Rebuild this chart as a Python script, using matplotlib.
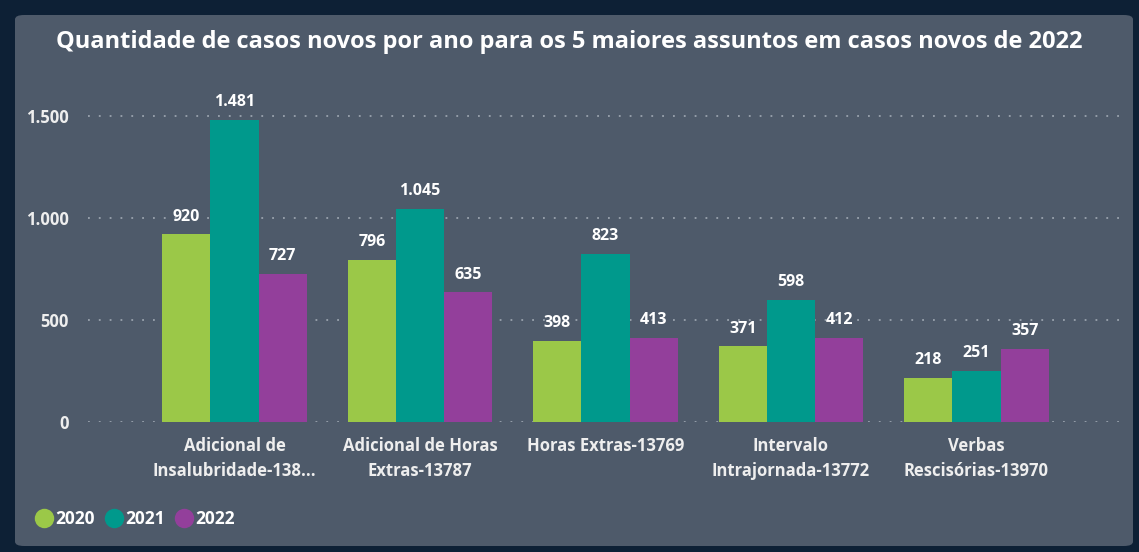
import matplotlib.pyplot as plt
from matplotlib.patches import FancyBboxPatch
from matplotlib.lines import Line2D
from matplotlib.ticker import FuncFormatter
import numpy as np

categories = ['Adicional de\nInsalubridade-138...', 'Adicional de Horas\nExtras-13787',
              'Horas Extras-13769', 'Intervalo\nIntrajornada-13772', 'Verbas\nRescisórias-13970']
years = ['2020', '2021', '2022']
v2020 = [920, 796, 398, 371, 218]
v2021 = [1481, 1045, 823, 598, 251]
v2022 = [727, 635, 413, 412, 357]
colors = ['#9bc848', '#00998c', '#933f9b']

plt.rcParams['font.family'] = ['Open Sans', 'DejaVu Sans']

fig = plt.figure(figsize=(11.39, 5.52), dpi=100)
fig.patch.set_facecolor('#0d2035')
panel = FancyBboxPatch((15 / 1139, 6 / 552), 1118 / 1139, 531 / 552,
                       boxstyle='round,pad=0,rounding_size=0.008',
                       transform=fig.transFigure, facecolor='#4e5a6a',
                       edgecolor='none', zorder=-10)
fig.patches.append(panel)

ax = fig.add_axes([88 / 1139, 130 / 552, 1035 / 1139, 326.4 / 552])
ax.set_facecolor('none')
ax.set_zorder(5)

x = np.arange(len(categories))
w = 0.26
for i, vals in enumerate([v2020, v2021, v2022]):
    bars = ax.bar(x + (i - 1) * w, vals, w, color=colors[i], zorder=3)
    for b, v in zip(bars, vals):
        lbl = f'{v:,}'.replace(',', '.')
        ax.annotate(lbl, (b.get_x() + b.get_width() / 2, v), xytext=(0, 7),
                    textcoords='offset points', ha='center', va='bottom',
                    color='white', fontsize=11.5, fontweight='bold')

ax.set_xlim(-0.79, 4.79)
ax.set_ylim(0, 1600)
ax.set_yticks([0, 500, 1000, 1500])
ax.yaxis.set_major_formatter(FuncFormatter(lambda v, p: f'{int(v):,}'.replace(',', '.')))
ax.grid(axis='y', color='#9aa3ae', linestyle=(0, (1, 5)), linewidth=1.3, zorder=1)
for s in ax.spines.values():
    s.set_visible(False)
ax.tick_params(length=0, colors='#eeeeee', labelsize=12)
ax.tick_params(axis='y', pad=14)
ax.tick_params(axis='x', pad=11)
ax.set_xticks(x)
ax.set_xticklabels(categories, fontweight='bold', linespacing=1.45)
for t in ax.get_yticklabels():
    t.set_fontweight('bold')

fig.text(0.5, 1 - 42 / 552, 'Quantidade de casos novos por ano para os 5 maiores assuntos em casos novos de 2022',
         ha='center', va='center', color='white', fontsize=17, fontweight='bold')

handles = [Line2D([], [], marker='o', linestyle='none', markersize=14,
                  markerfacecolor=c, markeredgecolor='none') for c in colors]
leg = fig.legend(handles, years, loc='center left', bbox_to_anchor=(20 / 1139, 1 - 519 / 552),
                 ncol=3, frameon=False, handletextpad=0.15, columnspacing=0.6,
                 handlelength=1.0, prop={'size': 12.5, 'weight': 'bold'})
for t in leg.get_texts():
    t.set_color('white')

fig.savefig('out.png', dpi=100, facecolor=fig.get_facecolor())
